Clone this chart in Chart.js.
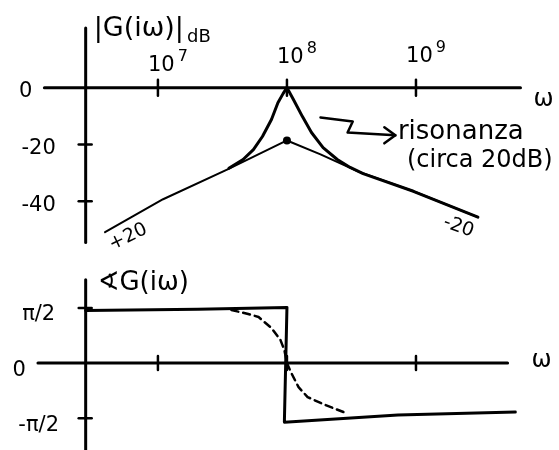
<!DOCTYPE html>
<html>
<head>
<meta charset="utf-8">
<script src="https://cdn.jsdelivr.net/npm/chart.js@4.4.1/dist/chart.umd.min.js"></script>
<style>
  html, body { margin: 0; padding: 0; background: #fff; }
  canvas { display: block; }
</style>
</head>
<body>
<canvas id="mag" width="559" height="262"></canvas>
<canvas id="phase" width="559" height="188"></canvas>
<script>
// Frequency axis: log10(ω)
const decadeTicks = [7, 8, 9];
const decadeBase = '10';
const decadeExponents = ['7', '8', '9'];

// Magnitude |G(iω)| in dB
const dbTicks = [0, -20, -40];
const dbTickLabels = ['0', '-20', '-40'];
const asymLogW = [6.59, 7.04, 7.54, 8.0, 8.26, 8.55, 8.98, 9.48];
const asymDb   = [-50.9, -39.3, -28.8, -18.6, -23.5, -29.5, -36.5, -45.6];
const respLogW = [7.55, 7.66, 7.74, 7.81, 7.88, 7.93, 7.97, 8.0, 8.05, 8.12, 8.19, 8.28, 8.39, 8.49, 8.59, 8.98, 9.48];
const respDb   = [-28.4, -25.3, -21.8, -17.2, -11.2, -5.3, -2.1, 0, -4.2, -10.2, -15.8, -21.1, -25.3, -28.1, -30.3, -36.5, -45.6];
const peakLogW = [8.0];
const peakDb   = [-18.6];
const magAxisLogW = [6.12, 9.81];   // extent of the ω axis
const magAxisDb   = [21, -54.5];    // extent of the dB axis
const slopeLabels = ['+20', '-20'];
const slopeLabelLogW = [6.77, 9.33];
const slopeLabelDb   = [-52.6, -49.1];

// Phase ∢G(iω) in degrees
const phaseTicks = [90, 0, -90];
const phaseTickLabels = ['π/2', '0', '-π/2'];
const stepLogW  = [6.44, 7.31, 8.0, 7.98, 8.86, 9.77];
const stepDeg   = [86, 88, 91, -96.5, -85, -80];
const smoothLogW = [7.57, 7.70, 7.78, 7.88, 7.95, 7.98, 8.0, 8.03, 8.09, 8.16, 8.30, 8.46];
const smoothDeg  = [86.7, 80.2, 75.3, 57.3, 37.6, 21.3, 0, -14.7, -39.3, -55.6, -68.7, -81.8];
const phaseAxisLogW = [6.07, 9.71];
const phaseAxisDeg  = [136, -142];

const FONT = '"DejaVu Sans", sans-serif';
const pts = (xs, ys) => xs.map((x, i) => ({ x, y: ys[i] }));

function lineDs(data, width, dash) {
  return {
    data, showLine: true, borderColor: '#000', borderWidth: width,
    borderDash: dash || [], pointRadius: 0, tension: 0, fill: false,
    borderCapStyle: 'round', borderJoinStyle: 'round'
  };
}

function baseOptions(xmin, xmax, ymin, ymax, padding) {
  return {
    responsive: false, animation: false, devicePixelRatio: 1,
    layout: { padding },
    plugins: { legend: { display: false }, tooltip: { enabled: false } },
    scales: {
      x: { type: 'linear', min: xmin, max: xmax, display: false },
      y: { type: 'linear', min: ymin, max: ymax, display: false }
    }
  };
}

function strokeSeg(ctx, x1, y1, x2, y2) {
  ctx.beginPath(); ctx.moveTo(x1, y1); ctx.lineTo(x2, y2); ctx.stroke();
}

// ---------- magnitude plot ----------
const magAxes = {
  id: 'magAxes',
  afterDatasetsDraw(chart) {
    const { ctx, scales: { x, y } } = chart;
    ctx.save();
    ctx.strokeStyle = '#000'; ctx.fillStyle = '#000';
    ctx.lineWidth = 3; ctx.lineCap = 'round';
    const y0 = y.getPixelForValue(0);
    const xa = x.getPixelForValue(6.44);
    const xStart = x.getPixelForValue(magAxisLogW[0]);
    const xEnd = x.getPixelForValue(magAxisLogW[1]);
    strokeSeg(ctx, xStart, y0, xEnd, y0);
    strokeSeg(ctx, xa, y.getPixelForValue(magAxisDb[0]), xa, y.getPixelForValue(magAxisDb[1]));

    // decade ticks and 10^n labels (hand-staggered baselines)
    ctx.lineWidth = 2.5;
    ctx.textAlign = 'left'; ctx.textBaseline = 'alphabetic';
    const labelBase = [71, 63, 62];
    decadeTicks.forEach((d, i) => {
      const px = x.getPixelForValue(d);
      strokeSeg(ctx, px, y0 - 8, px, y0 + 8);
      ctx.font = '21px ' + FONT;
      const wb = ctx.measureText(decadeBase).width;
      ctx.font = '16px ' + FONT;
      const we = ctx.measureText(decadeExponents[i]).width;
      const left = px + 10 - (wb + 3 + we) / 2;
      ctx.font = '21px ' + FONT;
      ctx.fillText(decadeBase, left, labelBase[i]);
      ctx.font = '16px ' + FONT;
      ctx.fillText(decadeExponents[i], left + wb + 3, labelBase[i] - 10);
    });

    // dB ticks and labels
    ctx.font = '21px ' + FONT;
    ctx.textBaseline = 'middle';
    dbTicks.forEach((v, i) => {
      const py = y.getPixelForValue(v);
      if (v !== 0) strokeSeg(ctx, xa - 7, py, xa + 6, py);
      if (v === 0) { ctx.textAlign = 'right'; ctx.fillText(dbTickLabels[i], xStart - 12, py + 4); }
      else { ctx.textAlign = 'center'; ctx.fillText(dbTickLabels[i], xa - 47, py + 4); }
    });

    // ω label
    ctx.font = '24px ' + FONT; ctx.textAlign = 'left';
    ctx.fillText('ω', xEnd + 13, y0 + 12);

    // title |G(iω)|dB
    ctx.textBaseline = 'alphabetic';
    ctx.font = '27px ' + FONT;
    const title = '|G(iω)|';
    ctx.fillText(title, xa + 8, 36);
    const tw = ctx.measureText(title).width;
    ctx.font = '18px ' + FONT;
    ctx.fillText('dB', xa + 8 + tw + 3, 42);

    // slope labels
    ctx.font = '19px ' + FONT; ctx.textAlign = 'center'; ctx.textBaseline = 'middle';
    const rot = [-0.45, 0.35];
    slopeLabels.forEach((t, i) => {
      ctx.save();
      ctx.translate(x.getPixelForValue(slopeLabelLogW[i]), y.getPixelForValue(slopeLabelDb[i]));
      ctx.rotate(rot[i]);
      ctx.fillText(t, 0, 0);
      ctx.restore();
    });

    // resonance note with arrow
    const arrow = [[8.26, -10.5], [8.51, -11.9], [8.47, -15.8], [8.84, -16.8]];
    ctx.lineWidth = 2.5; ctx.lineJoin = 'round';
    ctx.beginPath();
    arrow.forEach(([lw, db], i) => {
      const px = x.getPixelForValue(lw), py = y.getPixelForValue(db);
      if (i === 0) ctx.moveTo(px, py); else ctx.lineTo(px, py);
    });
    ctx.stroke();
    const tipX = x.getPixelForValue(arrow[3][0]), tipY = y.getPixelForValue(arrow[3][1]);
    ctx.beginPath();
    ctx.moveTo(tipX - 11, tipY - 8); ctx.lineTo(tipX, tipY); ctx.lineTo(tipX - 11, tipY + 8);
    ctx.stroke();
    ctx.textAlign = 'left'; ctx.textBaseline = 'alphabetic';
    ctx.font = '26px ' + FONT;
    ctx.fillText('risonanza', x.getPixelForValue(8.86), y.getPixelForValue(-18.2));
    ctx.font = '24px ' + FONT;
    ctx.fillText('(circa 20dB)', x.getPixelForValue(8.93), y.getPixelForValue(-28.1));
    ctx.restore();
  }
};

new Chart(document.getElementById('mag'), {
  type: 'scatter',
  data: {
    datasets: [
      lineDs(pts(asymLogW, asymDb), 2),
      lineDs(pts(respLogW, respDb), 3),
      { data: pts(peakLogW, peakDb), showLine: false, pointRadius: 4,
        pointBackgroundColor: '#000', pointBorderColor: '#000', pointBorderWidth: 0 }
    ]
  },
  options: baseOptions(5.9, 10, -60, 27, { left: 16, right: 14, top: 11, bottom: 3 }),
  plugins: [magAxes]
});

// ---------- phase plot ----------
const phaseAxes = {
  id: 'phaseAxes',
  afterDatasetsDraw(chart) {
    const { ctx, scales: { x, y } } = chart;
    ctx.save();
    ctx.strokeStyle = '#000'; ctx.fillStyle = '#000';
    ctx.lineWidth = 3; ctx.lineCap = 'round';
    const y0 = y.getPixelForValue(0);
    const xa = x.getPixelForValue(6.44);
    const xStart = x.getPixelForValue(phaseAxisLogW[0]);
    const xEnd = x.getPixelForValue(phaseAxisLogW[1]);
    strokeSeg(ctx, xStart, y0, xEnd, y0);
    strokeSeg(ctx, xa, y.getPixelForValue(phaseAxisDeg[0]), xa, y.getPixelForValue(phaseAxisDeg[1]));

    ctx.lineWidth = 2.5;
    decadeTicks.forEach(d => {
      const px = x.getPixelForValue(d);
      strokeSeg(ctx, px, y0 - 7, px, y0 + 7);
    });

    ctx.font = '21px ' + FONT; ctx.textBaseline = 'middle';
    phaseTicks.forEach((v, i) => {
      const py = y.getPixelForValue(v);
      if (v !== 0) strokeSeg(ctx, xa - 7, py, xa + 6, py);
      if (v === 0) { ctx.textAlign = 'right'; ctx.fillText(phaseTickLabels[i], xStart - 12, py + 7); }
      else { ctx.textAlign = 'center'; ctx.fillText(phaseTickLabels[i], xa - 47, py + 7); }
    });

    ctx.font = '24px ' + FONT; ctx.textAlign = 'left';
    ctx.fillText('ω', xEnd + 24, y0 - 2);

    ctx.textBaseline = 'alphabetic';
    ctx.font = '26px ' + FONT;
    ctx.fillText('∢G(iω)', xa + 12, 28);
    ctx.restore();
  }
};

new Chart(document.getElementById('phase'), {
  type: 'scatter',
  data: {
    datasets: [
      lineDs(pts(stepLogW, stepDeg), 3),
      lineDs(pts(smoothLogW, smoothDeg), 2.5, [7, 5])
    ]
  },
  options: baseOptions(5.9, 10, -142, 157, { left: 16, right: 14, top: 5, bottom: 0 }),
  plugins: [phaseAxes]
});
</script>
</body>
</html>
